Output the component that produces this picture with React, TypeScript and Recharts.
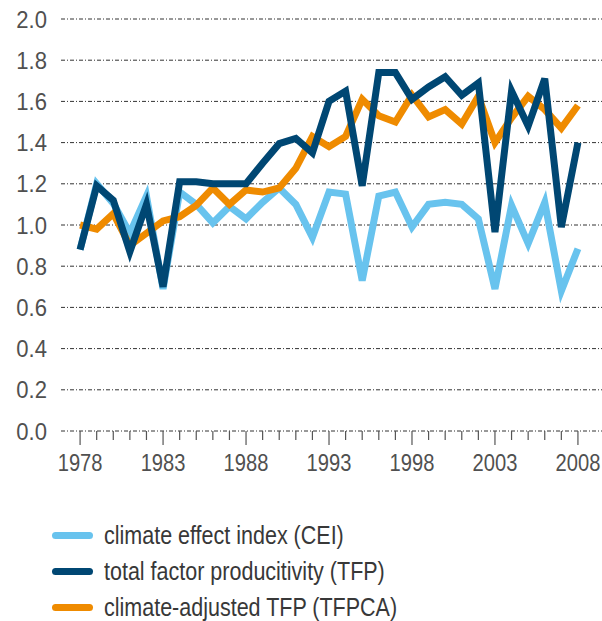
import { LineChart, Line, XAxis, YAxis, CartesianGrid } from 'recharts';

const years = [
  1978, 1979, 1980, 1981, 1982, 1983, 1984, 1985, 1986, 1987, 1988, 1989, 1990, 1991, 1992, 1993,
  1994, 1995, 1996, 1997, 1998, 1999, 2000, 2001, 2002, 2003, 2004, 2005, 2006, 2007, 2008,
];

const cei = [
  0.88, 1.2, 1.105, 0.96, 1.14, 0.69, 1.16, 1.1, 1.01, 1.09, 1.03, 1.11, 1.18, 1.1, 0.94, 1.16,
  1.15, 0.73, 1.14, 1.16, 0.99, 1.1, 1.11, 1.1, 1.03, 0.69, 1.095, 0.91, 1.11, 0.68, 0.885,
];

const tfp = [
  0.88, 1.19, 1.12, 0.87, 1.1, 0.7, 1.21, 1.21, 1.2, 1.2, 1.2, 1.3, 1.395, 1.42, 1.35, 1.6,
  1.65, 1.19, 1.74, 1.74, 1.61, 1.67, 1.72, 1.63, 1.69, 0.965, 1.65, 1.48, 1.71, 0.99, 1.4,
];

const tfpca = [
  1.0, 0.98, 1.055, 0.9, 0.96, 1.02, 1.04, 1.095, 1.18, 1.1, 1.17, 1.16, 1.18, 1.275, 1.43, 1.38,
  1.43, 1.61, 1.53, 1.5, 1.63, 1.525, 1.56, 1.49, 1.625, 1.4, 1.52, 1.625, 1.56, 1.47, 1.58,
];

const yTicks = [0, 0.2, 0.4, 0.6, 0.8, 1.0, 1.2, 1.4, 1.6, 1.8, 2.0];
const labelYears = [1978, 1983, 1988, 1993, 1998, 2003, 2008];

const series = [
  { key: 'cei', name: 'climate effect index (CEI)', color: '#68C3EE' },
  { key: 'tfp', name: 'total factor producitivity (TFP)', color: '#004773' },
  { key: 'tfpca', name: 'climate-adjusted TFP (TFPCA)', color: '#EF8B00' },
];

const data = years.map((year, i) => ({ year, cei: cei[i], tfp: tfp[i], tfpca: tfpca[i] }));

const FONT = "'Liberation Sans', Arial, sans-serif";
const TEXT = '#505050';

function YearTick(props: any) {
  const { x, y, payload } = props;
  const major = labelYears.includes(payload.value);
  return (
    <g>
      <line x1={x} x2={x} y1={y} y2={y + (major ? 14 : 9)} stroke="#555" strokeWidth={1.2} />
      {major && (
        <text
          transform={`translate(${x},${y + 40}) scale(0.84,1)`}
          textAnchor="middle"
          fill={TEXT}
          fontSize={24}
          fontFamily={FONT}
        >
          {payload.value}
        </text>
      )}
    </g>
  );
}

function ValueTick(props: any) {
  const { x, y, payload } = props;
  return (
    <text
      transform={`translate(${x},${y + 8.5}) scale(0.92,1)`}
      textAnchor="end"
      fill={TEXT}
      fontSize={24}
      fontFamily={FONT}
    >
      {Number(payload.value).toFixed(1)}
    </text>
  );
}

export default function App() {
  return (
    <div style={{ width: 602, height: 621, position: 'relative', background: '#fff', overflow: 'hidden' }}>
      <style>{'body{margin:0}'}</style>
      <LineChart width={602} height={480} data={data} margin={{ top: 19, right: 0, left: 0, bottom: 9 }}>
        <CartesianGrid vertical={false} stroke="#333" strokeDasharray="4 2 1 2" />
        <XAxis
          dataKey="year"
          type="number"
          domain={[1976.85, 2009.45]}
          ticks={years}
          interval={0}
          axisLine={false}
          tickLine={false}
          tickSize={0}
          tickMargin={0}
          height={40}
          tick={<YearTick />}
        />
        <YAxis
          domain={[0, 2]}
          ticks={yTicks}
          interval={0}
          width={61}
          axisLine={false}
          tickLine={false}
          tickSize={0}
          tickMargin={14}
          tick={<ValueTick />}
        />
        <Line type="linear" dataKey="cei" stroke={series[0].color} strokeWidth={7} dot={false} isAnimationActive={false} />
        <Line type="linear" dataKey="tfpca" stroke={series[2].color} strokeWidth={7} dot={false} isAnimationActive={false} />
        <Line type="linear" dataKey="tfp" stroke={series[1].color} strokeWidth={7} dot={false} isAnimationActive={false} />
      </LineChart>
      <div style={{ position: 'absolute', left: 52, top: 517, fontFamily: FONT }}>
        {series.map((s) => (
          <div key={s.key} style={{ display: 'flex', alignItems: 'center', height: 36 }}>
            <div style={{ width: 41, height: 7, borderRadius: 4, background: s.color, marginRight: 11, flexShrink: 0 }} />
            <span
              style={{
                fontSize: 25,
                lineHeight: '28px',
                color: '#383838',
                whiteSpace: 'nowrap',
                display: 'inline-block',
                transform: 'scaleX(0.86)',
                transformOrigin: 'left center',
              }}
            >
              {s.name}
            </span>
          </div>
        ))}
      </div>
    </div>
  );
}
